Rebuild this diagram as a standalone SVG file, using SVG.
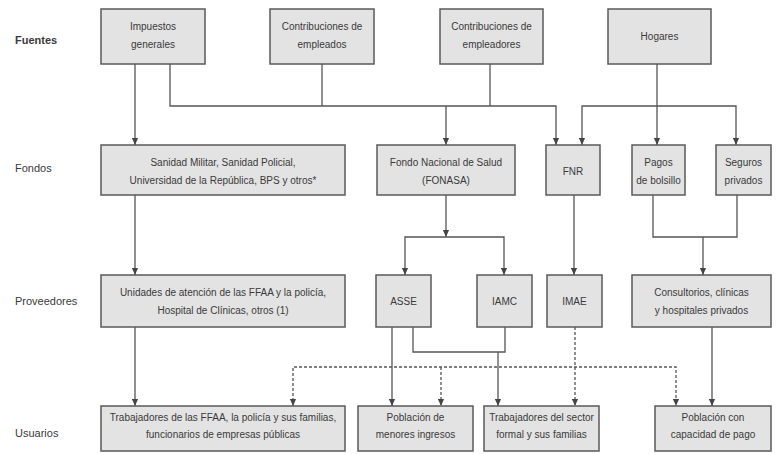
<svg xmlns="http://www.w3.org/2000/svg" width="779" height="454" viewBox="0 0 779 454">
<style>
.box{fill:#e3e3e3;stroke:#5a5a5a;stroke-width:1.5}
.t{font-family:"Liberation Sans",Arial,sans-serif;font-size:10px;fill:#3a3a3a;text-anchor:middle}
.lab{font-family:"Liberation Sans",Arial,sans-serif;font-size:11px;fill:#3a3a3a}
.c{fill:none;stroke:#555;stroke-width:1.3}
.d{fill:none;stroke:#555;stroke-width:1.3;stroke-dasharray:3,2}
</style>
<defs>
<marker id="a" viewBox="0 0 8 8" refX="8" refY="4" markerWidth="8" markerHeight="7" markerUnits="userSpaceOnUse" orient="auto-start-reverse">
<path d="M0,0.5 L8,4 L0,7.5 z" fill="#444"/>
</marker>
</defs>
<rect width="779" height="454" fill="#fff"/>
<g id="labels">
<text class="lab" x="15" y="44" font-weight="bold">Fuentes</text>
<text class="lab" x="15" y="172">Fondos</text>
<text class="lab" x="15" y="305">Proveedores</text>
<text class="lab" x="15" y="437">Usuarios</text>
</g>
<g id="connectors">
<path class="c" d="M135 64 V145" marker-end="url(#a)"/>
<path class="c" d="M170 64 V106 H556 V145" marker-end="url(#a)"/>
<path class="c" d="M322 64 V106"/>
<path class="c" d="M490 64 V106"/>
<path class="c" d="M446 106 V145" marker-end="url(#a)"/>
<path class="c" d="M657 64 V145" marker-end="url(#a)"/>
<path class="c" d="M582 145 V106 H736 V145" marker-start="url(#a)" marker-end="url(#a)"/>
<path class="c" d="M135 195 V275" marker-end="url(#a)"/>
<path class="c" d="M446 195 V237" marker-end="url(#a)"/>
<path class="c" d="M405 275 V237 H504 V275" marker-start="url(#a)" marker-end="url(#a)"/>
<path class="c" d="M574 195 V275" marker-end="url(#a)"/>
<path class="c" d="M653 195 V237 H737 V195"/>
<path class="c" d="M703 237 V275" marker-end="url(#a)"/>
<path class="c" d="M135 327 V406" marker-end="url(#a)"/>
<path class="c" d="M392 327 V406" marker-end="url(#a)"/>
<path class="c" d="M413 327 V352 H505 V327"/>
<path class="c" d="M498 352 V406" marker-end="url(#a)"/>
<path class="d" d="M575 327 V367"/>
<path class="d" d="M293 406 V367 H676 V406" marker-start="url(#a)" marker-end="url(#a)"/>
<path class="d" d="M441 367 V406" marker-end="url(#a)"/>
<path class="d" d="M575 367 V406" marker-end="url(#a)"/>
<path class="c" d="M712 327 V406" marker-end="url(#a)"/>
</g>
<g id="impuestos"><rect class="box" x="101" y="9" width="104" height="55"/><text class="t" x="153" y="30">Impuestos</text><text class="t" x="153" y="48">generales</text></g>
<g id="contrib-empleados"><rect class="box" x="270" y="9" width="104" height="55"/><text class="t" x="322" y="30">Contribuciones de</text><text class="t" x="322" y="48">empleados</text></g>
<g id="contrib-empleadores"><rect class="box" x="440" y="9" width="103" height="55"/><text class="t" x="491.5" y="30">Contribuciones de</text><text class="t" x="491.5" y="48">empleadores</text></g>
<g id="hogares"><rect class="box" x="608" y="9" width="103" height="55"/><text class="t" x="659.5" y="40">Hogares</text></g>
<g id="sanidad"><rect class="box" x="101" y="145" width="244" height="50"/><text class="t" x="223" y="166">Sanidad Militar, Sanidad Policial,</text><text class="t" x="223" y="184">Universidad de la República, BPS y otros*</text></g>
<g id="fonasa"><rect class="box" x="377" y="145" width="138" height="50"/><text class="t" x="446" y="166">Fondo Nacional de Salud</text><text class="t" x="446" y="184">(FONASA)</text></g>
<g id="fnr"><rect class="box" x="546" y="145" width="54" height="50"/><text class="t" x="573" y="175">FNR</text></g>
<g id="pagos"><rect class="box" x="632" y="145" width="53" height="50"/><text class="t" x="658.5" y="166">Pagos</text><text class="t" x="658.5" y="184">de bolsillo</text></g>
<g id="seguros"><rect class="box" x="716" y="145" width="55" height="50"/><text class="t" x="743.5" y="166">Seguros</text><text class="t" x="743.5" y="184">privados</text></g>
<g id="unidades"><rect class="box" x="101" y="275" width="244" height="52"/><text class="t" x="223" y="296">Unidades de atención de las FFAA y la policía,</text><text class="t" x="223" y="314">Hospital de Clínicas, otros (1)</text></g>
<g id="asse"><rect class="box" x="376" y="275" width="55" height="52"/><text class="t" x="403.5" y="305">ASSE</text></g>
<g id="iamc"><rect class="box" x="477" y="275" width="55" height="52"/><text class="t" x="504.5" y="305">IAMC</text></g>
<g id="imae"><rect class="box" x="547" y="275" width="55" height="52"/><text class="t" x="574.5" y="305">IMAE</text></g>
<g id="consultorios"><rect class="box" x="632" y="275" width="139" height="52"/><text class="t" x="701.5" y="296">Consultorios, clínicas</text><text class="t" x="701.5" y="314">y hospitales privados</text></g>
<g id="trab-ffaa"><rect class="box" x="101" y="406" width="244" height="45"/><text class="t" x="223" y="421">Trabajadores de las FFAA, la policía y sus familias,</text><text class="t" x="223" y="438">funcionarios de empresas públicas</text></g>
<g id="poblacion-menores"><rect class="box" x="358" y="406" width="115" height="45"/><text class="t" x="415.5" y="421">Población de</text><text class="t" x="415.5" y="438">menores ingresos</text></g>
<g id="trab-formal"><rect class="box" x="484" y="406" width="115" height="45"/><text class="t" x="541.5" y="421">Trabajadores del sector</text><text class="t" x="541.5" y="438">formal y sus familias</text></g>
<g id="poblacion-capacidad"><rect class="box" x="655" y="406" width="116" height="45"/><text class="t" x="713" y="421">Población con</text><text class="t" x="713" y="438">capacidad de pago</text></g>
</svg>
